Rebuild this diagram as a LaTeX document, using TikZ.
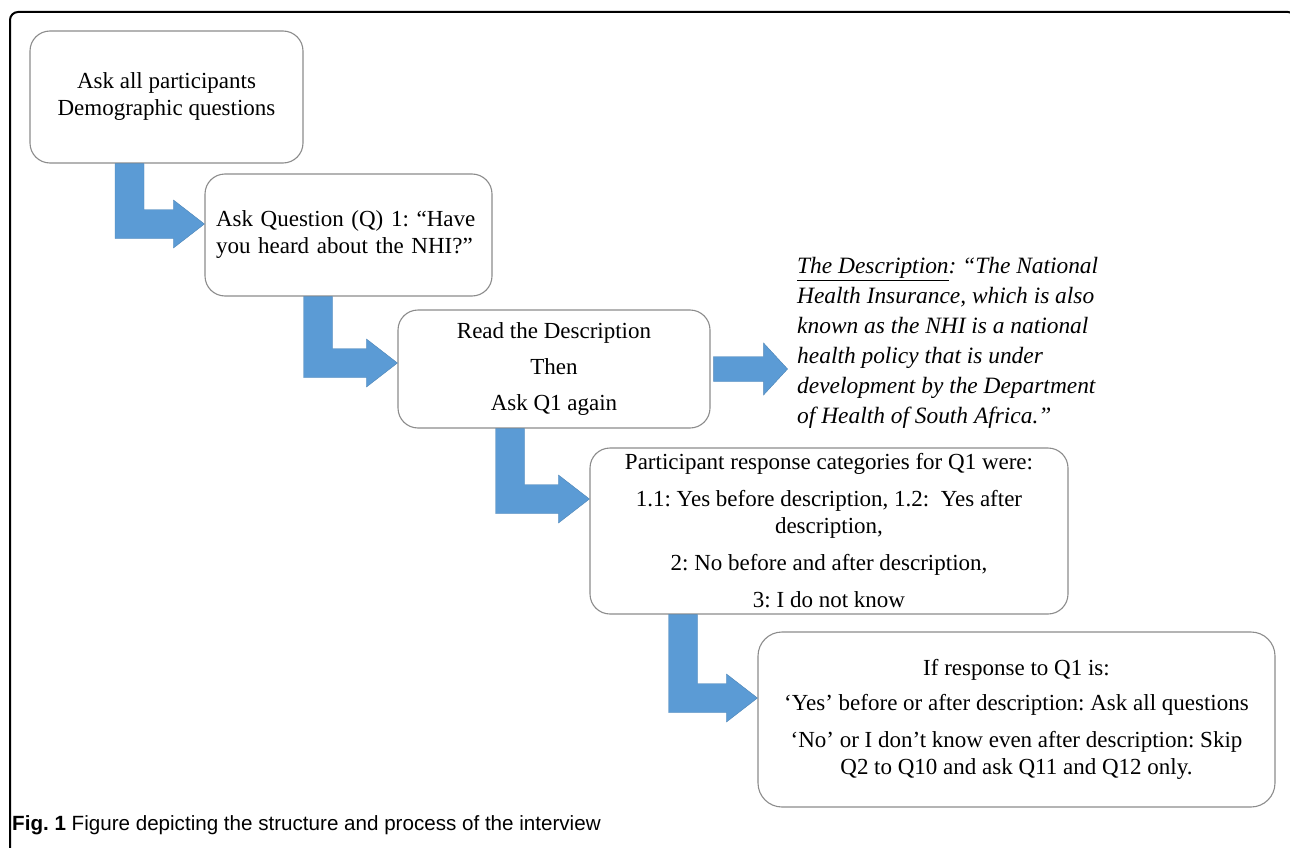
\documentclass[tikz,border=0pt]{standalone}
\usepackage{fontspec}
\setmainfont{Liberation Serif}
\setsansfont{Liberation Sans}
\usetikzlibrary{calc}
\definecolor{arrowblue}{HTML}{5B9BD5}
\definecolor{boxgray}{HTML}{8C8C8C}

\begin{document}
\frenchspacing
\begin{tikzpicture}[x=1pt, y=-1pt,
    box/.style={
        draw=boxgray,
        fill=white,
        line width=1.1pt,
        rounded corners=20pt,
        align=center,
        inner sep=0pt,
        font=\fontsize{23}{27}\selectfont
    },
    note/.style={
        align=left,
        inner sep=0pt,
        font=\fontsize{23.4}{30}\selectfont\itshape
    },
    blockarrow/.style={
        fill=arrowblue,
        draw=arrowblue!85!black,
        line width=0.4pt
    }
]
\useasboundingbox (0,0) rectangle (1290,848);
\begin{scope}
\clip (0,0) rectangle (1290,848);
\draw[line width=2pt, rounded corners=8pt] (10,880) -- (10,12) -- (1296,12) -- (1296,880);
\end{scope}

\node[box, minimum width=273pt, minimum height=132pt] (demog) at (166.5,97)
    {Ask all participants\\Demographic questions};
\node[box, align=left, text width=265pt, inner xsep=11pt, minimum height=122pt] (askq) at (348.5,235)
    {Ask Question (Q) 1: “Have\\you heard about the NHI?”};
\node[box, minimum width=312pt, minimum height=118pt] (readd) at (554,369)
    {Read the Description\\[9pt]Then\\[9pt]Ask Q1 again};
\node[box, minimum width=478pt, minimum height=166pt] (resp) at (829,531)
    {Participant response categories for Q1 were:\\[10pt]
     1.1: Yes before description, 1.2:\ \ Yes after\\description,\\[10pt]
     2: No before and after description,\\[10pt]
     3: I do not know};
\node[box, rounded corners=24pt, minimum width=517pt, minimum height=175pt] (branch) at (1016.5,719.5)
    {If response to Q1 is:\\[8pt]
     ‘Yes’ before or after description: Ask all questions\\[10pt]
     ‘No’ or I don’t know even after description: Skip\\
     Q2 to Q10 and ask Q11 and Q12 only.};
\node[note, anchor=north west] (descnote) at (797,257.5)
    {\underline{The Description}: “The National\\
     Health Insurance, which is also\\
     known as the NHI is a national\\
     health policy that is under\\
     development by the Department\\
     of Health of South Africa.”};
\node[anchor=base west, inner sep=0pt, font=\sffamily\fontsize{20.6}{24}\selectfont] (caption) at (12,830)
    {\textbf{Fig. 1} Figure depicting the structure and process of the interview};

\coordinate (s1) at ([xshift=-37pt]demog.south);
\coordinate (t1) at ([yshift=11pt]askq.west);
\coordinate (s2) at ([xshift=-30.5pt]askq.south);
\coordinate (t2) at ([yshift=6pt]readd.west);
\coordinate (s3) at ([xshift=-44pt]readd.south);
\coordinate (t3) at ([yshift=32pt]resp.west);
\coordinate (s4) at ([xshift=-146pt]resp.south);
\coordinate (t4) at ([yshift=21.5pt]branch.west);
\coordinate (r0) at ([xshift=3pt]readd.east);
\coordinate (r1) at ([xshift=77pt]readd.east);

\foreach \s/\t in {s1/t1, s2/t2, s3/t3, s4/t4}
    \filldraw[blockarrow] let \p1=(\s), \p2=(\t) in
        (\x1-14.5pt,\y1) -- (\x1-14.5pt,\y2-14.5pt) -- (\x2-31pt,\y2-14.5pt)
        -- (\x2-31pt,\y2-24pt) -- (\x2,\y2) -- (\x2-31pt,\y2+24pt)
        -- (\x2-31pt,\y2+14.5pt) -- (\x1+14.5pt,\y2+14.5pt) -- (\x1+14.5pt,\y1) -- cycle;
\filldraw[blockarrow] let \p1=(r0), \p2=(r1) in
    (\x1,\y2+12.5pt) -- (\x2-24pt,\y2+12.5pt) -- (\x2-24pt,\y2+26pt) -- (\x2,\y2)
    -- (\x2-24pt,\y2-26pt) -- (\x2-24pt,\y2-12.5pt) -- (\x1,\y2-12.5pt) -- cycle;
\end{tikzpicture}
\end{document}
